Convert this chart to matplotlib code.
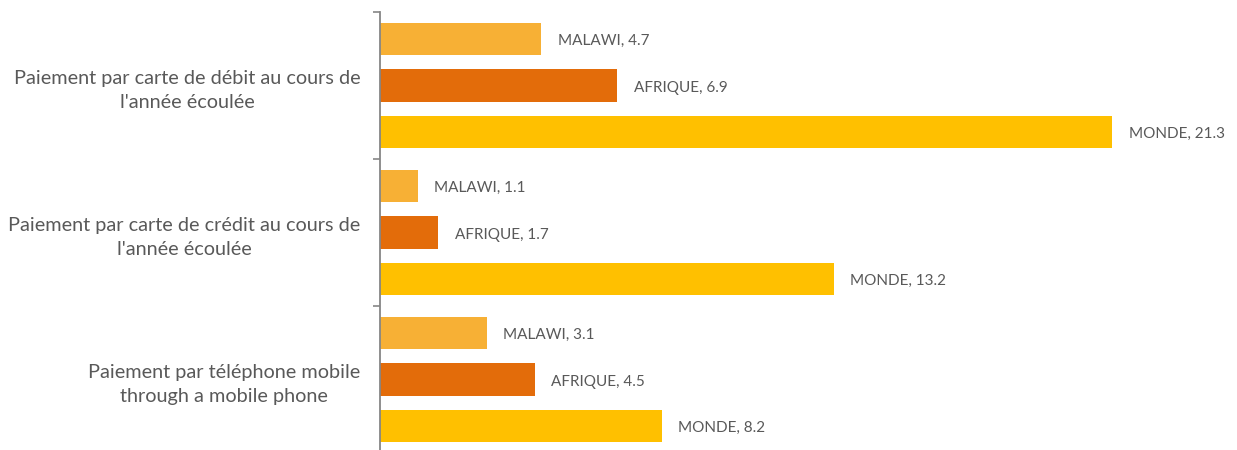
import matplotlib.pyplot as plt
import numpy as np

# categories (top to bottom) and values
categories = [
    "Paiement par carte de débit au cours de\nl'année écoulée",
    "Paiement par carte de crédit au cours de\nl'année écoulée",
    "Paiement par téléphone mobile\nthrough a mobile phone",
]
series_names = ['MALAWI', 'AFRIQUE', 'MONDE']
malawi = [4.7, 1.1, 3.1]
afrique = [6.9, 1.7, 4.5]
monde = [21.3, 13.2, 8.2]

colors = ['#F7B035', '#E36C0A', '#FFC000']
text_color = '#595959'

plt.rcParams['font.family'] = ['Lato', 'DejaVu Sans']

fig = plt.figure(figsize=(12.37, 4.5), dpi=100)
ax = fig.add_axes([380 / 1237, -3 / 450, 859 / 1237, 441 / 450])

centers = np.arange(len(categories)) + 0.5
offsets = [-0.316, 0.0, 0.316]
bar_h = 0.218

for name, vals, off, col in zip(series_names, [malawi, afrique, monde], offsets, colors):
    bars = ax.barh(centers + off, vals, height=bar_h, color=col)
    for b, v in zip(bars, vals):
        ax.annotate(f'{name}, {v}', xy=(v, b.get_y() + b.get_height() / 2),
                    xytext=(12, -1.5), textcoords='offset points',
                    ha='left', va='center', fontsize=11, color=text_color)

ax.set_xlim(0, 25)
ax.set_ylim(3, 0)

# category labels
ax.set_yticks(centers)
ax.set_yticklabels(categories, fontsize=14.3, color=text_color,
                   ha='right', multialignment='center', linespacing=1.5)
ax.tick_params(axis='y', which='major', length=0, pad=14)
ax.set_yticks(np.arange(len(categories) + 1), minor=True)
ax.tick_params(axis='y', which='minor', length=5, width=1.2, color='#868686')

ax.set_xticks([])
for s in ['top', 'right', 'bottom']:
    ax.spines[s].set_visible(False)
ax.spines['left'].set_color('#868686')
ax.spines['left'].set_linewidth(1.3)

fig.savefig('out.png', dpi=100)
